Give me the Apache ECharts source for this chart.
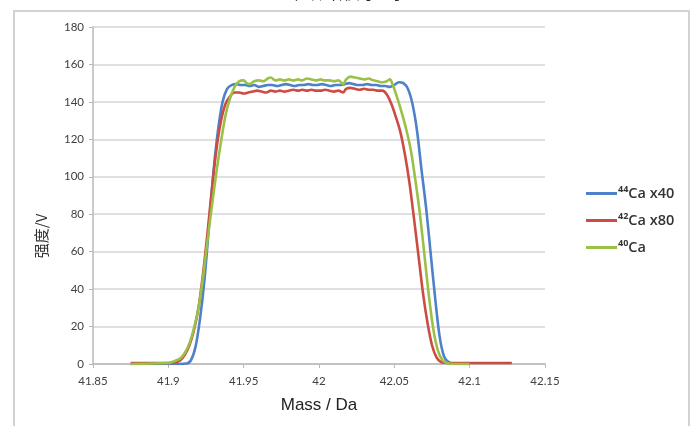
<!DOCTYPE html>
<html>
<head>
<meta charset="utf-8">
<script src="https://cdn.jsdelivr.net/npm/echarts@6/dist/echarts.min.js"></script>
<style>
  html, body { margin: 0; padding: 0; background: #fff; }
  #chart { width: 695px; height: 426px; }
</style>
</head>
<body>
<div id="chart"></div>
<script>
// mass (Da) and intensity (V)
const ca44 = [
  [41.875, 0], [41.900, 0], [41.912, 0.3], [41.915, 2], [41.918, 9], [41.921, 24], [41.924, 45],
  [41.927, 74], [41.930, 103], [41.933, 125], [41.936, 140], [41.939, 147], [41.942, 149],
  [41.945, 149.5], [41.948, 149], [41.951, 149], [41.954, 148.5], [41.957, 149], [41.960, 148],
  [41.963, 148.5], [41.966, 149], [41.969, 149], [41.972, 148.5], [41.975, 149], [41.978, 149.5],
  [41.981, 149], [41.984, 148.5], [41.987, 149], [41.990, 149], [41.993, 149.5], [41.996, 149],
  [41.999, 149], [42.002, 149.5], [42.005, 149], [42.008, 148.5], [42.011, 149], [42.014, 149],
  [42.017, 149.5], [42.020, 150], [42.023, 149.5], [42.026, 149], [42.029, 149], [42.032, 149.5],
  [42.035, 149], [42.038, 149], [42.041, 148.5], [42.044, 148.5], [42.047, 148], [42.050, 149],
  [42.053, 150.5], [42.056, 150], [42.059, 147], [42.062, 139], [42.065, 125], [42.068, 104],
  [42.071, 84], [42.074, 60], [42.077, 36], [42.080, 15], [42.083, 4], [42.086, 1], [42.090, 0],
  [42.100, 0]
];
const ca42 = [
  [41.875, 0.5], [41.900, 0.5], [41.905, 1], [41.908, 2], [41.911, 5], [41.914, 10], [41.917, 18],
  [41.920, 30], [41.923, 48], [41.926, 70], [41.929, 94], [41.932, 115], [41.935, 130],
  [41.938, 139], [41.941, 143], [41.944, 145], [41.947, 145], [41.950, 144.5], [41.953, 145],
  [41.956, 145.5], [41.959, 146], [41.962, 145.5], [41.965, 145], [41.968, 146], [41.971, 145.5],
  [41.974, 146], [41.977, 145.5], [41.980, 146], [41.983, 146.5], [41.986, 146], [41.989, 146.5],
  [41.992, 146], [41.995, 146.5], [41.998, 146], [42.001, 146], [42.004, 146.5], [42.007, 146],
  [42.010, 145.5], [42.013, 146], [42.016, 145], [42.018, 147], [42.021, 147.5], [42.024, 147],
  [42.027, 146.5], [42.030, 147], [42.033, 146.5], [42.036, 146.5], [42.039, 146], [42.042, 146],
  [42.045, 144], [42.048, 139], [42.051, 132], [42.054, 124], [42.057, 112], [42.060, 97],
  [42.063, 78], [42.066, 58], [42.069, 38], [42.072, 22], [42.075, 10], [42.078, 3.5],
  [42.081, 1], [42.085, 0.5], [42.090, 0.5], [42.128, 0.5]
];
const ca40 = [
  [41.875, 0], [41.900, 0.5], [41.904, 1.5], [41.908, 3], [41.911, 6], [41.914, 11], [41.917, 19],
  [41.920, 30], [41.923, 46], [41.926, 66], [41.929, 85], [41.932, 103], [41.935, 119],
  [41.938, 133], [41.941, 142], [41.944, 148], [41.947, 151], [41.950, 151.5], [41.952, 150],
  [41.954, 149.5], [41.957, 151], [41.960, 151.5], [41.963, 151], [41.966, 152.5], [41.968, 153],
  [41.971, 151.5], [41.974, 152], [41.977, 151.5], [41.980, 152], [41.983, 151.5], [41.986, 152],
  [41.989, 151.5], [41.992, 152.5], [41.995, 152], [41.998, 151.5], [42.001, 152], [42.004, 151.5],
  [42.007, 151.5], [42.010, 151], [42.013, 151.5], [42.016, 149.5], [42.018, 152], [42.021, 153.5],
  [42.024, 153], [42.027, 152.5], [42.030, 152], [42.033, 152.5], [42.036, 151.5], [42.039, 151],
  [42.042, 150.5], [42.045, 151], [42.047, 152], [42.049, 149], [42.052, 142], [42.055, 134],
  [42.058, 125], [42.061, 114], [42.064, 98], [42.067, 80], [42.070, 58], [42.073, 36],
  [42.076, 18], [42.079, 7], [42.082, 2], [42.085, 0.5], [42.090, 0], [42.100, 0]
];
const seriesNames = ['44Ca x40', '42Ca x80', '40Ca'];
const legendLabels = ['{s|44}{t|Ca x40}', '{s|42}{t|Ca x80}', '{s|40}{t|Ca}'];
const colors = ['#4f81c8', '#cc4b42', '#9ac047'];

const chart = echarts.init(document.getElementById('chart'));
const labelFont = 'Lato, "Open Sans", sans-serif';

chart.setOption({
  animation: false,
  color: colors,
  title: {
    text: '平顶峰形的显示',
    left: 'center',
    top: -21,
    textStyle: {fontSize: 17, fontWeight: 'normal', color: '#222', fontFamily: '"Noto Sans CJK SC"'}
  },
  grid: {left: 93, right: 150, top: 27, bottom: 62},
  legend: {
    orient: 'vertical',
    left: 586,
    top: 185,
    padding: 0,
    itemGap: 11,
    icon: 'rect',
    itemWidth: 31,
    itemHeight: 3,
    formatter: name => legendLabels[seriesNames.indexOf(name)],
    textStyle: {
      padding: [0, 0, 0, -4],
      rich: {
        s: {fontSize: 9, fontWeight: 'bold', color: '#333', fontFamily: '"Open Sans"', verticalAlign: 'top', lineHeight: 17},
        t: {fontSize: 14.5, fontWeight: 600, color: '#333', fontFamily: '"Open Sans"', lineHeight: 17}
      }
    }
  },
  xAxis: {
    type: 'value',
    min: 41.85,
    max: 42.15,
    interval: 0.05,
    name: 'Mass / Da',
    nameLocation: 'middle',
    nameGap: 33,
    nameTextStyle: {fontSize: 17, color: '#222', fontFamily: '"Liberation Sans"'},
    axisLine: {lineStyle: {color: '#b8b8b8', width: 1.5}},
    axisTick: {show: true, length: 4, lineStyle: {color: '#b8b8b8'}},
    axisLabel: {
      color: '#404040', fontSize: 11.5, fontFamily: labelFont, margin: 11,
      formatter: v => String(+v.toFixed(2))
    },
    splitLine: {show: false}
  },
  yAxis: {
    type: 'value',
    min: 0,
    max: 180,
    interval: 20,
    axisLine: {show: true, lineStyle: {color: '#b8b8b8', width: 1.5}},
    axisTick: {show: true, length: 4, lineStyle: {color: '#b8b8b8'}},
    axisLabel: {color: '#404040', fontSize: 11.5, fontFamily: labelFont, margin: 9},
    splitLine: {lineStyle: {color: '#d6d6d6', width: 1.5}}
  },
  graphic: [
    {type: 'rect', shape: {x: 14, y: 11, width: 675, height: 440}, style: {fill: 'none', stroke: '#d2d2d2', lineWidth: 2}, z: -1},
    {type: 'text', x: 41, y: 236, rotation: Math.PI / 2,
     style: {text: '强度/V', fontSize: 15, fill: '#333', align: 'center', verticalAlign: 'middle', fontFamily: '"Noto Sans CJK SC"'}}
  ],
  series: [
    {name: seriesNames[0], type: 'line', data: ca44, showSymbol: false, smooth: 0.3, lineStyle: {width: 2.6}},
    {name: seriesNames[1], type: 'line', data: ca42, showSymbol: false, smooth: 0.3, lineStyle: {width: 2.6}},
    {name: seriesNames[2], type: 'line', data: ca40, showSymbol: false, smooth: 0.3, lineStyle: {width: 2.6}}
  ]
});
</script>
</body>
</html>
